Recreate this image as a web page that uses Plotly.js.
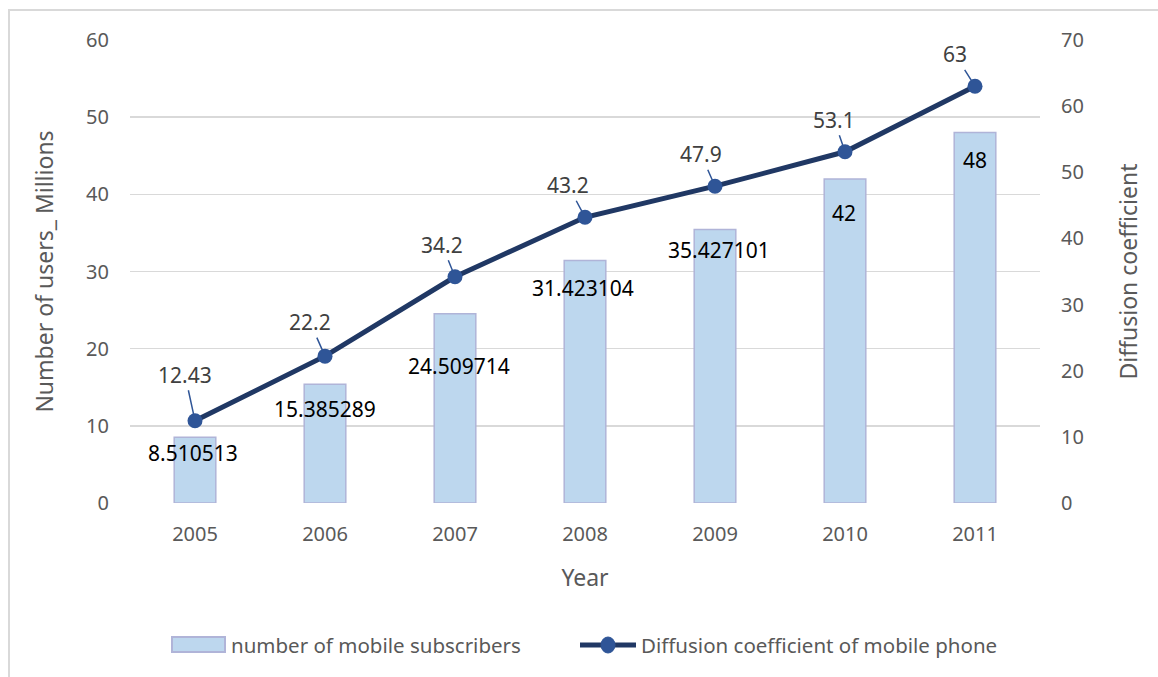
<!DOCTYPE html>
<html>
<head>
<meta charset="utf-8">
<script src="https://cdn.plot.ly/plotly-3.0.1.min.js"></script>
<style>
  html, body { margin: 0; padding: 0; background: #fff; }
  #chart { width: 1158px; height: 677px; position: relative; }
  #frame { position: absolute; left: 8px; top: 9px; width: 1200px; height: 800px;
           border-left: 2px solid #d9d9d9; border-top: 2px solid #d9d9d9; pointer-events: none; }
</style>
</head>
<body>
<div id="chart"></div>
<div id="frame"></div>
<script>
const years = ['2005', '2006', '2007', '2008', '2009', '2010', '2011'];
const subscribers = [8.510513, 15.385289, 24.509714, 31.423104, 35.427101, 42, 48];
const subscriberLabels = ['8.510513', '15.385289', '24.509714', '31.423104', '35.427101', '42', '48'];
const diffusion = [12.43, 22.2, 34.2, 43.2, 47.9, 53.1, 63];
const diffusionLabels = ['12.43', '22.2', '34.2', '43.2', '47.9', '53.1', '63'];
const seriesNames = ['number of mobile subscribers', 'Diffusion coefficient of mobile phone'];

// label placement (layout only)
const barLabelShiftY = [-16, -25, -52, -27, -20, -34, -27];
const barLabelShiftX = [-2, 0, 4, -2, 4, -1, 0];
const lineLabelAx = [-10, -15, -13, -17, -14, -11, -20];
const lineLabelAy = [-46, -34, -32, -32, -32, -32, -32];

const FONT = 'Noto Sans, Open Sans, sans-serif';
const BAR_FILL = '#BDD7EE', BAR_EDGE = '#B0B4D8';
const LINE_COLOR = '#203864', MARKER_COLOR = '#2F5597';

const traces = [
  {
    type: 'bar',
    name: seriesNames[0],
    x: years,
    y: subscribers,
    width: 0.32,
    marker: { color: BAR_FILL, line: { color: BAR_EDGE, width: 1.5 } },
    yaxis: 'y',
    showlegend: false
  },
  {
    type: 'scatter',
    mode: 'lines+markers',
    name: seriesNames[1],
    x: years,
    y: diffusion,
    yaxis: 'y2',
    line: { color: LINE_COLOR, width: 5 },
    marker: { color: MARKER_COLOR, size: 15 },
    showlegend: false
  }
];

const annotations = [];
years.forEach((yr, i) => {
  annotations.push({
    x: i, y: subscribers[i], xref: 'x', yref: 'y',
    text: subscriberLabels[i], showarrow: false,
    yshift: barLabelShiftY[i], xshift: barLabelShiftX[i],
    font: { family: FONT, size: 21, color: '#000000' }
  });
  annotations.push({
    x: i, y: diffusion[i], xref: 'x', yref: 'y2',
    text: diffusionLabels[i], showarrow: true,
    arrowhead: 0, arrowwidth: 1.5, arrowcolor: MARKER_COLOR,
    ax: lineLabelAx[i], ay: lineLabelAy[i], standoff: 6,
    font: { family: FONT, size: 21, color: '#404040' }
  });
});

// custom legend (paper coords: plot area x 130..1040, y 40..503)
const px = x => (x - 130) / 910;
const py = y => (503 - y) / 463;
const legendY = 645;
const shapes = [
  { type: 'rect', xref: 'paper', yref: 'paper',
    x0: px(172), x1: px(225), y0: py(652), y1: py(637),
    fillcolor: BAR_FILL, line: { color: BAR_EDGE, width: 2 } },
  { type: 'line', xref: 'paper', yref: 'paper',
    x0: px(580), x1: px(636), y0: py(legendY), y1: py(legendY),
    line: { color: LINE_COLOR, width: 5 } },
  { type: 'circle', xref: 'paper', yref: 'paper',
    x0: px(601), x1: px(615), y0: py(legendY + 8), y1: py(legendY - 8),
    fillcolor: MARKER_COLOR, line: { color: MARKER_COLOR, width: 1 } }
];
annotations.push({
  xref: 'paper', yref: 'paper', x: px(229), y: py(legendY), xanchor: 'left', yanchor: 'middle',
  text: seriesNames[0], showarrow: false, font: { family: FONT, size: 20.5, color: '#595959' }
});
annotations.push({
  xref: 'paper', yref: 'paper', x: px(639), y: py(legendY), xanchor: 'left', yanchor: 'middle',
  text: seriesNames[1], showarrow: false, font: { family: FONT, size: 20.5, color: '#595959' }
});

const layout = {
  width: 1158,
  height: 677,
  margin: { l: 130, r: 118, t: 40, b: 174 },
  paper_bgcolor: '#ffffff',
  plot_bgcolor: '#ffffff',
  font: { family: FONT, color: '#595959', size: 20 },
  showlegend: false,
  xaxis: {
    type: 'category',
    range: [-0.5, 6.5],
    autorange: false,
    showgrid: false,
    showline: false,
    zeroline: false,
    ticks: '',
    tickfont: { family: FONT, size: 20, color: '#595959' },
    ticklabelstandoff: 17,
    title: { text: 'Year', font: { family: FONT, size: 23, color: '#595959' }, standoff: 23 }
  },
  yaxis: {
    range: [0, 60],
    autorange: false,
    dtick: 10,
    showgrid: true,
    gridcolor: '#d9d9d9',
    gridwidth: 1.5,
    zeroline: false,
    showline: false,
    ticks: '',
    ticklabelstandoff: 20,
    tickfont: { family: FONT, size: 20, color: '#595959' },
    title: { text: 'Number of users_ Millions', font: { family: FONT, size: 23, color: '#595959' }, standoff: 26 }
  },
  yaxis2: {
    range: [0, 70],
    autorange: false,
    dtick: 10,
    overlaying: 'y',
    side: 'right',
    showgrid: false,
    zeroline: false,
    showline: false,
    ticks: '',
    ticklabelstandoff: 20,
    tickfont: { family: FONT, size: 20, color: '#595959' },
    title: { text: 'Diffusion coefficient', font: { family: FONT, size: 23, color: '#595959' }, standoff: 38 }
  },
  shapes: shapes,
  annotations: annotations
};

Plotly.newPlot('chart', traces, layout, { displayModeBar: false, staticPlot: true });
</script>
</body>
</html>
